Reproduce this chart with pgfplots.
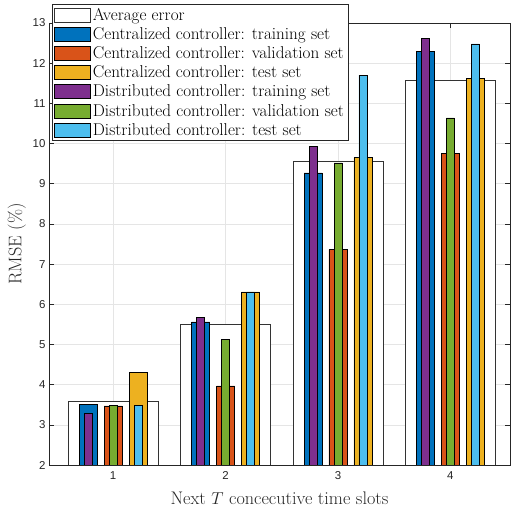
\documentclass[border=0pt]{standalone}
\usepackage{fontspec}
\usepackage{pgfplots}
\pgfplotsset{compat=1.18}
\newfontfamily\tickfont{Liberation Sans}
\definecolor{mblue}{rgb}{0,0.447,0.741}
\definecolor{morange}{rgb}{0.850,0.325,0.098}
\definecolor{myellow}{rgb}{0.929,0.694,0.125}
\definecolor{mpurple}{rgb}{0.494,0.184,0.556}
\definecolor{mgreen}{rgb}{0.466,0.674,0.188}
\definecolor{mcyan}{rgb}{0.301,0.745,0.933}
\definecolor{axcol}{rgb}{0.15,0.15,0.15}
\begin{document}
\begin{tikzpicture}
\begin{axis}[
  scale only axis, width=461bp, height=442bp,
  xmin=0.43, xmax=4.53, ymin=2, ymax=13,
  xtick={1,2,3,4}, ytick={2,3,...,13},
  grid=major, major grid style={draw=black!10, line width=0.5pt},
  axis line style={draw=axcol, line width=0.6pt},
  tick style={draw=axcol, line width=0.5pt},
  tick align=inside, major tick length=5bp,
  tick label style={font=\tickfont\fontsize{11.5}{13}\selectfont, text=axcol},
  xticklabel style={yshift=-3bp},
  /pgf/number format/assume math mode=true,
  xlabel={Next $T$ concecutive time slots},
  ylabel={RMSE (\%)},
  label style={font=\fontsize{18.3}{21}\selectfont, text=axcol},
  xlabel style={yshift=-5bp},
  legend cell align=left,
  legend image code/.code={\draw[#1] (0bp,-7bp) rectangle (36bp,7bp);},
  legend style={at={(0.0065,1.043)}, anchor=north west, draw=axcol, line width=0.6pt,
    font=\fontsize{17.2}{20}\selectfont, row sep=1.7bp, inner sep=2pt},
]
\addplot[ybar, bar width=0.8, bar shift=0, fill=white, draw=black!80, line width=0.6pt]
  coordinates {(1,3.59) (2,5.49) (3,9.57) (4,11.57)};
\addlegendentry{Average error}
\addplot[ybar, bar width=0.16, bar shift=-0.222, fill=mblue, draw=black, line width=0.5pt]
  coordinates {(1,3.50) (2,5.56) (3,9.27) (4,12.29)};
\addlegendentry{Centralized controller: training set}
\addplot[ybar, bar width=0.16, bar shift=0, fill=morange, draw=black, line width=0.5pt]
  coordinates {(1,3.47) (2,3.97) (3,7.36) (4,9.76)};
\addlegendentry{Centralized controller: validation set}
\addplot[ybar, bar width=0.16, bar shift=0.222, fill=myellow, draw=black, line width=0.5pt]
  coordinates {(1,4.30) (2,6.31) (3,9.65) (4,11.63)};
\addlegendentry{Centralized controller: test set}
\addplot[ybar, bar width=0.07, bar shift=-0.222, fill=mpurple, draw=black, line width=0.5pt]
  coordinates {(1,3.29) (2,5.67) (3,9.93) (4,12.62)};
\addlegendentry{Distributed controller: training set}
\addplot[ybar, bar width=0.07, bar shift=0, fill=mgreen, draw=black, line width=0.5pt]
  coordinates {(1,3.48) (2,5.13) (3,9.52) (4,10.64)};
\addlegendentry{Distributed controller: validation set}
\addplot[ybar, bar width=0.07, bar shift=0.222, fill=mcyan, draw=black, line width=0.5pt]
  coordinates {(1,3.48) (2,6.31) (3,11.70) (4,12.48)};
\addlegendentry{Distributed controller: test set}
\end{axis}
\pgfresetboundingbox
\path[use as bounding box] ([shift={(-49bp,-45bp)}]current axis.south west) rectangle ([shift={(4bp,23bp)}]current axis.north east);
\end{tikzpicture}
\end{document}
